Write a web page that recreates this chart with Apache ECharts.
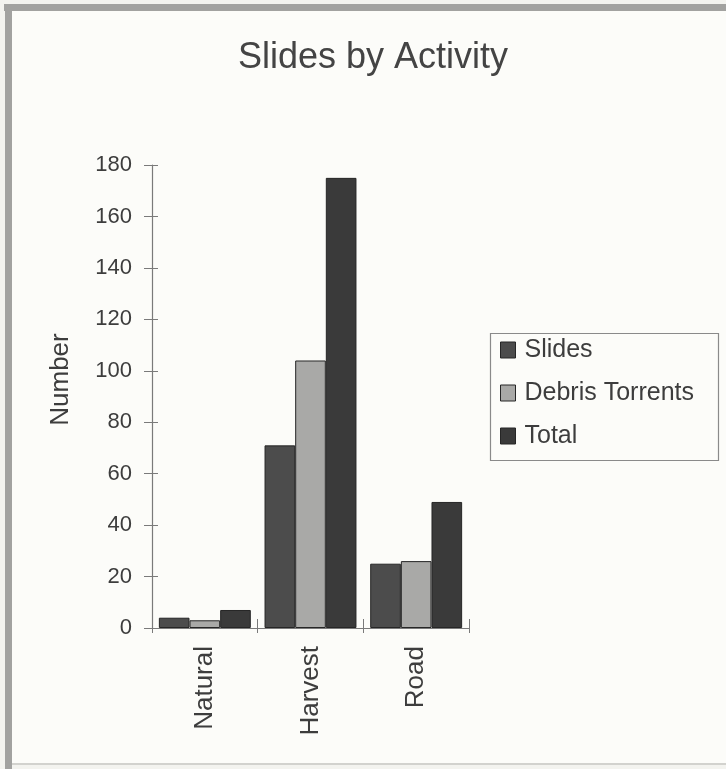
<!DOCTYPE html>
<html>
<head>
<meta charset="utf-8">
<script src="https://cdn.jsdelivr.net/npm/echarts@6/dist/echarts.min.js"></script>
<style>
  html, body { margin: 0; padding: 0; background: #f3f3ef; }
  #chart { width: 726px; height: 769px; }
</style>
</head>
<body>
<div id="chart"></div>
<script>
// Landslide counts grouped by land-use activity
const categories = ['Natural', 'Harvest', 'Road'];
const slides = [4, 71, 25];
const debrisTorrents = [3, 104, 26];
const total = [7, 175, 49];
const yTicks = { min: 0, max: 180, step: 20 };

const FONT = '"Liberation Sans", Arial, sans-serif';
const TEXT = '#3d3d3d';
const AXIS = '#7a7a7a';

const chart = echarts.init(document.getElementById('chart'), null, { renderer: 'canvas' });

function barSeries(name, data, color) {
  return {
    name: name,
    type: 'bar',
    data: data,
    barGap: '0%',
    barCategoryGap: '13%',
    itemStyle: { color: color, borderColor: '#262626', borderWidth: 1 }
  };
}

chart.setOption({
  backgroundColor: 'transparent',
  animation: false,
  textStyle: { fontFamily: FONT },
  graphic: [
    // page panel and its frame (heavy on top and left, light at the bottom)
    {
      type: 'rect',
      z: -10,
      shape: { x: 8, y: 8, width: 730, height: 756 },
      style: { fill: '#fcfcf9' }
    },
    {
      type: 'line',
      z: -9,
      shape: { x1: 4, y1: 7.5, x2: 726, y2: 7.5 },
      style: { stroke: '#a2a2a0', lineWidth: 7 }
    },
    {
      type: 'line',
      z: -9,
      shape: { x1: 8.5, y1: 4, x2: 8.5, y2: 769 },
      style: { stroke: '#a2a2a0', lineWidth: 7 }
    },
    {
      type: 'line',
      z: -9,
      shape: { x1: 12, y1: 764, x2: 726, y2: 764 },
      style: { stroke: '#d2d2ce', lineWidth: 2 }
    },
    // legend box
    {
      type: 'rect',
      z: 5,
      shape: { x: 490.5, y: 333.5, width: 228, height: 127 },
      style: { fill: 'none', stroke: '#8a8a8a', lineWidth: 1.2 }
    }
  ],
  title: {
    text: 'Slides by Activity',
    left: 368,
    textAlign: 'center',
    top: 35,
    textStyle: { fontFamily: FONT, fontSize: 36, fontWeight: 'normal', color: '#444' }
  },
  legend: {
    orient: 'vertical',
    left: 496,
    top: 335,
    padding: [0, 0, 0, 4],
    itemWidth: 15,
    itemHeight: 16,
    itemGap: 13,
    icon: 'rect',
    textStyle: { fontFamily: FONT, fontSize: 25, color: TEXT, lineHeight: 30, padding: [0, 0, 0, 4] },
    itemStyle: { borderColor: '#262626', borderWidth: 1 },
    data: ['Slides', 'Debris Torrents', 'Total']
  },
  grid: { left: 152, top: 165, width: 317, height: 463 },
  xAxis: [
    {
      type: 'category',
      data: categories,
      axisLine: { lineStyle: { color: AXIS, width: 1.2 } },
      axisTick: { show: true, length: 5, lineStyle: { color: AXIS } },
      axisLabel: { rotate: 90, margin: 18, fontFamily: FONT, fontSize: 26, color: TEXT }
    },
    {
      type: 'category',
      data: categories,
      position: 'bottom',
      axisLine: { show: false },
      axisTick: { show: true, inside: true, length: 9, lineStyle: { color: AXIS } },
      axisLabel: { show: false }
    }
  ],
  yAxis: [
    {
      type: 'value',
      min: yTicks.min,
      max: yTicks.max,
      interval: yTicks.step,
      name: 'Number',
      nameLocation: 'middle',
      nameGap: 78,
      nameRotate: 90,
      nameTextStyle: { fontFamily: FONT, fontSize: 26, color: TEXT, padding: [0, 0, 0, 34] },
      splitLine: { show: false },
      axisLine: { show: true, lineStyle: { color: AXIS, width: 1.2 } },
      axisTick: { show: true, length: 8, lineStyle: { color: AXIS } },
      axisLabel: { margin: 20, fontFamily: FONT, fontSize: 22, color: TEXT }
    },
    {
      type: 'value',
      min: yTicks.min,
      max: yTicks.max,
      interval: yTicks.step,
      position: 'left',
      splitLine: { show: false },
      axisLine: { show: false },
      axisTick: { show: true, inside: true, length: 6, lineStyle: { color: AXIS } },
      axisLabel: { show: false }
    }
  ],
  series: [
    barSeries('Slides', slides, '#4c4c4c'),
    barSeries('Debris Torrents', debrisTorrents, '#a9a9a7'),
    barSeries('Total', total, '#3a3a3a')
  ]
});
</script>
</body>
</html>
